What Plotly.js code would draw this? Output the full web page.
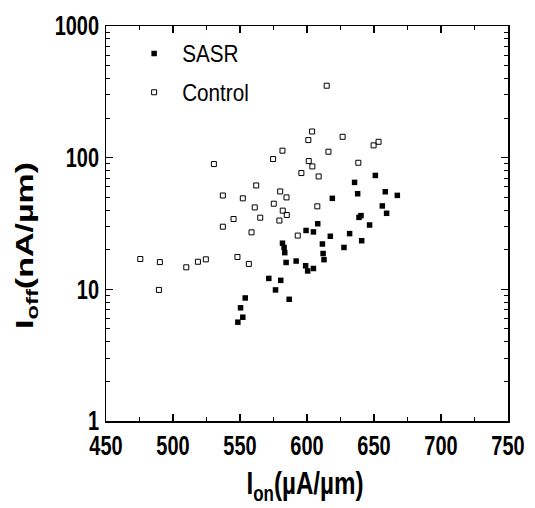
<!DOCTYPE html>
<html>
<head>
<meta charset="utf-8">
<script src="https://cdn.plot.ly/plotly-3.0.1.min.js"></script>
<style>html,body{margin:0;padding:0;background:#fff;}#chart{width:535px;height:508px;}</style>
</head>
<body>
<div id="chart"></div>
<script>
// SASR series (filled squares)
var sasrX = [651, 635.5, 658.4, 667.4, 637.8, 618.9, 656.2, 659.4, 638.8, 640.3,
             646.7, 608, 599.3, 604.8, 631.8, 617.4, 640.8, 611.5, 627.6, 581.7,
             582.9, 583.4, 612, 612.7, 584.4, 591.9, 599, 600.5, 604.8, 571.5,
             580.4, 576.5, 586.7, 553.9, 550.4, 552.1, 548.4];
var sasrY = [73.3, 64.9, 55.1, 51.7, 53.2, 49.1, 43.0, 37.8, 35.2, 36.3,
             30.8, 31.5, 28.0, 27.3, 26.5, 25.3, 23.4, 22.1, 20.8, 22.4,
             20.8, 19.0, 18.7, 16.8, 16.0, 16.4, 15.1, 13.8, 14.4, 12.1,
             11.7, 9.9, 8.4, 8.6, 7.24, 6.14, 5.63];
// Control series (open squares)
var ctrlX = [614.7, 603.8, 601, 626.6, 649.7, 653.4, 581.7, 574.7, 616, 601.3,
             604, 638.3, 530.5, 595.8, 608.7, 562.1, 537.2, 552.1, 580, 584.7,
             575.2, 561, 607.7, 581.9, 584.9, 545.2, 565.1, 579.4, 537.2, 558.6,
             593.1, 475.6, 490.2, 509.9, 518.6, 524.5, 548.1, 556.6, 489.5];
var ctrlY = [352, 158, 136, 144, 124, 132, 113, 97.6, 111, 94.2,
             85.8, 91.5, 89.4, 76.4, 72, 61.5, 51.6, 49.1, 55.4, 49.9,
             44.7, 41.9, 42.7, 39.6, 36.7, 34.2, 35, 33.3, 29.9, 27.1,
             25.6, 17, 16.1, 14.7, 16.2, 16.9, 17.6, 15.6, 9.9];
// Tick labels
var xTickVals = [450, 500, 550, 600, 650, 700, 750];
var xTickText = ['450', '500', '550', '600', '650', '700', '750'];
var yTickVals = [1, 10, 100, 1000];
var yTickText = ['1', '10', '100', '1000'];
var seriesNames = ['SASR', 'Control'];
var xTitle = 'I<sub>on</sub>(\u00b5A/\u00b5m)';
var yTitle = 'I<sub>off</sub>(nA/\u00b5m)';

var FONT = '"Liberation Sans", Arial, Helvetica, sans-serif';

var traces = [
  {x: sasrX, y: sasrY, name: seriesNames[0], type: 'scatter', mode: 'markers',
   legendgroup: 'a',
   marker: {symbol: 'square', size: 5.5, color: '#000'}},
  {x: ctrlX, y: ctrlY, name: seriesNames[1], type: 'scatter', mode: 'markers',
   legendgroup: 'b',
   marker: {symbol: 'square-open', size: 5, color: '#000', line: {width: 1, color: '#000'}}}
];

var layout = {
  width: 535, height: 508,
  margin: {l: 106, r: 27, t: 26, b: 87},
  paper_bgcolor: '#fff', plot_bgcolor: '#fff',
  showlegend: true,
  legend: {x: 0.07, y: 0.985, xanchor: 'left', yanchor: 'top',
           bgcolor: 'rgba(0,0,0,0)', tracegroupgap: 6,
           font: {family: FONT, size: 23, color: '#000'}},
  xaxis: {
    range: [450, 750], tickmode: 'array', tickvals: xTickVals, ticktext: xTickText,
    ticks: 'inside', ticklen: 7, tickwidth: 1.2, tickcolor: '#000',
    showline: true, linecolor: '#000', linewidth: 1.5, mirror: 'allticks',
    showgrid: false, zeroline: false,
    tickfont: {family: FONT, size: 27, color: '#000', weight: 'bold'},
    minor: {ticks: 'inside', ticklen: 4, tickwidth: 1, tickcolor: '#000', dtick: 25, tick0: 450, showgrid: false}
  },
  yaxis: {
    type: 'log', range: [0, 3], tickmode: 'array', tickvals: yTickVals, ticktext: yTickText,
    ticks: 'inside', ticklen: 7, tickwidth: 1.2, tickcolor: '#000',
    showline: true, linecolor: '#000', linewidth: 1.5, mirror: 'allticks',
    showgrid: false, zeroline: false,
    tickfont: {family: FONT, size: 27, color: '#000', weight: 'bold'},
    minor: {ticks: 'inside', ticklen: 4, tickwidth: 1, tickcolor: '#000', dtick: 'D1', showgrid: false}
  },
  annotations: [
    {text: xTitle, xref: 'paper', yref: 'paper',
     x: 0.495, y: -0.165, xanchor: 'center', yanchor: 'middle', showarrow: false,
     font: {family: FONT, size: 31, color: '#000', weight: 'bold'}},
    {text: yTitle, xref: 'paper', yref: 'paper', textangle: -90,
     x: -0.199, y: 0.443, xanchor: 'center', yanchor: 'middle', showarrow: false,
     font: {family: FONT, size: 34, color: '#000', weight: 'bold'}}
  ]
};

// narrow the glyphs like the reference (its text is horizontally condensed)
function squeezeEl(t, sx, sy, anchor, dx) {
  var b = t.getBBox();
  var ax = anchor === 'left' ? b.x : (anchor === 'right' ? b.x + b.width : b.x + b.width / 2);
  var ay = b.y + b.height / 2;
  var tr = t.getAttribute('transform') || '';
  t.setAttribute('transform', tr + ' translate(' + ((dx || 0) + ax) + ',' + ay + ') scale(' + sx + ',' + sy + ') translate(' + (-ax) + ',' + (-ay) + ')');
}
function squeezeAll(sel, sx, sy, anchor, dx) {
  document.querySelectorAll(sel).forEach(function (t) { squeezeEl(t, sx, sy, anchor, dx); });
}

Plotly.newPlot('chart', traces, layout, {displayModeBar: false, staticPlot: true}).then(function () {
  squeezeAll('.xtick text', 0.74, 1, 'center', 0);
  squeezeAll('.ytick text', 0.74, 1, 'right', 0);
  squeezeAll('.legendtext', 0.9, 1, 'left', 8);
  var ann = document.querySelectorAll('.annotation text');
  if (ann[0]) squeezeEl(ann[0], 0.78, 1, 'center', 0);
  if (ann[1]) squeezeEl(ann[1], 1, 0.7, 'center', 0);
});
</script>
</body>
</html>
